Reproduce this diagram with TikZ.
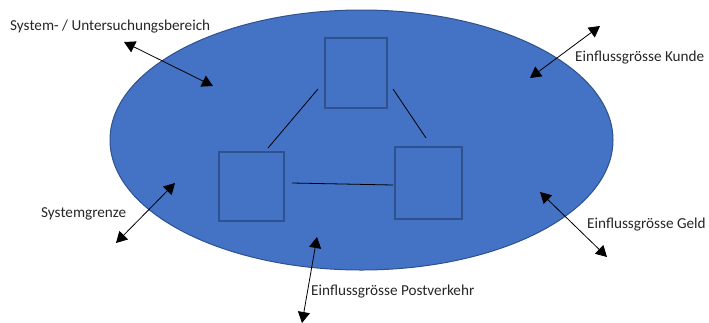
\documentclass[tikz,border=0pt]{standalone}
\usepackage{fontspec}
\setmainfont{Carlito}
\usetikzlibrary{arrows.meta,shapes.geometric}
\definecolor{sysfill}{HTML}{4472C4}
\definecolor{sysedge}{HTML}{2F528F}
\definecolor{labeltext}{HTML}{262626}
\tikzset{
  sysarea/.style={ellipse, draw=sysedge, fill=sysfill, line width=1pt},
  element/.style={draw=sysedge, line width=1.2pt, inner sep=0pt},
  relation/.style={draw=black, line width=0.8pt},
  influence/.style={draw=black, line width=0.8pt, {Triangle[length=11pt,width=12pt]}-{Triangle[length=11pt,width=12pt]}},
  caption/.style={font=\fontsize{15.2}{18}\selectfont, text=labeltext, inner sep=0pt, anchor=west}
}
\begin{document}
\begin{tikzpicture}[x=1pt,y=-1pt]
  \useasboundingbox (0,0) rectangle (709,322);

  % system area
  \node[sysarea, minimum width=503pt, minimum height=260pt, inner sep=0pt] (area) at (361.5,140) {};

  % system elements
  \node[element, minimum width=62pt, minimum height=70pt] (top) at (356,73) {};
  \node[element, minimum width=65pt, minimum height=69pt] (left) at (251.5,186.5) {};
  \node[element, minimum width=67pt, minimum height=72pt] (right) at (428.5,183) {};

  % relations between elements
  \coordinate (r1a) at (318,89);  \coordinate (r1b) at (268,148);
  \coordinate (r2a) at (393,89);  \coordinate (r2b) at (426,138);
  \coordinate (r3a) at (292,183); \coordinate (r3b) at (393,185);
  \draw[relation] (r1a) -- (r1b);
  \draw[relation] (r2a) -- (r2b);
  \draw[relation] (r3a) -- (r3b);

  % labels
  \node[caption] (lbereich) at (10,27) {System- / Untersuchungsbereich};
  \node[caption] (lkunde) at (575,58) {Einflussgrösse Kunde};
  \node[caption] (lgrenze) at (41,214) {Systemgrenze};
  \node[caption] (lpost) at (311,292) {Einflussgrösse Postverkehr};
  \node[caption] (lgeld) at (587,225) {Einflussgrösse Geld};

  % influence arrows
  \coordinate (a1o) at (124,42);  \coordinate (a1i) at (213,86);
  \coordinate (a2o) at (600,26);  \coordinate (a2i) at (530,78);
  \coordinate (a3o) at (116,243); \coordinate (a3i) at (175,183);
  \coordinate (a4o) at (302,323); \coordinate (a4i) at (317,237);
  \coordinate (a5o) at (607,257); \coordinate (a5i) at (540,192);
  \draw[influence] (a1o) -- (a1i);
  \draw[influence] (a2o) -- (a2i);
  \draw[influence] (a3o) -- (a3i);
  \draw[influence] (a4o) -- (a4i);
  \draw[influence] (a5o) -- (a5i);
\end{tikzpicture}
\end{document}
